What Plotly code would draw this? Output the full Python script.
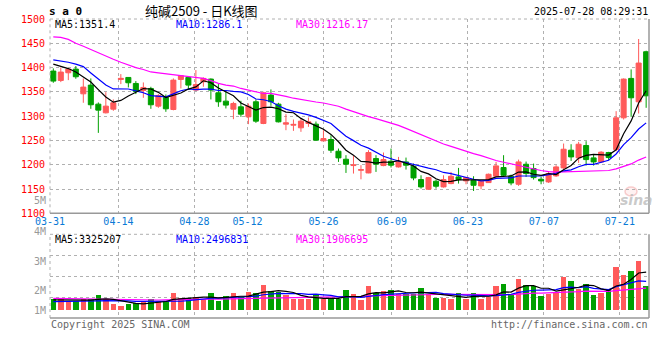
import plotly.graph_objects as go
import pandas as pd

# ---------------- data ----------------
dates = ["03-31",
 "04-01","04-02","04-03","04-07","04-08","04-09","04-10","04-11","04-14","04-15","04-16","04-17","04-18",
 "04-21","04-22","04-23","04-24","04-25","04-28","04-29","04-30",
 "05-06","05-07","05-08","05-09","05-12","05-13","05-14","05-15","05-16","05-19","05-20","05-21","05-22","05-23",
 "05-26","05-27","05-28","05-29","05-30",
 "06-03","06-04","06-05","06-06","06-09","06-10","06-11","06-12","06-13","06-16","06-17","06-18","06-19","06-20",
 "06-23","06-24","06-25","06-26","06-27","06-30",
 "07-01","07-02","07-03","07-04","07-07","07-08","07-09","07-10","07-11","07-14","07-15","07-16","07-17","07-18",
 "07-21","07-22","07-23","07-24","07-25"]

open_ = [1392.8,1373.5,1389.3,1396.9,1346.0,1363.9,1324.7,1306.9,1314.4,1375.6,
         1379.7,1367.3,1352.9,1357.0,1320.6,1338.5,1313.7,1375.6,1379.7,1353.6,
         1370.8,1376.3,1348.1,1330.9,1314.4,1319.2,1298.6,1329.6,1284.9,1343.3,
         1324.7,1283.5,1281.4,1276.0,1284.9,1283.5,1249.1,1251.9,1227.8,1211.3,
         1198.3,1188.6,1183.1,1212.7,1198.3,1207.2,1195.5,1205.8,1196.9,1169.4,
         1149.5,1166.0,1154.3,1161.2,1174.9,1166.7,1168.0,1156.4,1163.2,1176.3,
         1194.2,1176.3,1159.8,1201.0,1192.1,1170.1,1164.6,1177.0,1193.5,1229.9,
         1214.1,1239.5,1214.1,1205.8,1225.1,1231.3,1296.6,1377.7,1329.5,1432.6]
high = [1398.3,1400.3,1397.5,1403.1,1377.7,1377.7,1328.2,1349.5,1334.4,1386.6,
        1380.5,1372.2,1369.4,1360.5,1345.4,1344.7,1377.7,1384.5,1382.5,1394.8,
        1379.7,1377.7,1366.0,1350.2,1329.6,1331.6,1326.1,1334.4,1350.2,1355.0,
        1327.5,1304.1,1293.1,1296.5,1297.2,1289.0,1271.1,1260.8,1233.3,1219.6,
        1219.6,1199.0,1229.9,1219.6,1225.1,1233.3,1216.1,1214.7,1202.4,1178.3,
        1174.9,1169.4,1178.3,1185.2,1193.5,1174.9,1176.3,1168.0,1181.8,1205.8,
        1219.6,1179.7,1210.6,1206.5,1202.4,1174.9,1186.6,1199.0,1243.6,1242.2,
        1247.1,1248.4,1221.0,1227.8,1226.5,1310.3,1377.7,1396.2,1458.8,1434.7]
low = [1368.7,1370.1,1374.2,1377.0,1327.5,1315.1,1265.6,1305.5,1311.0,1366.0,
       1359.1,1345.4,1337.8,1315.1,1317.2,1308.9,1312.0,1357.0,1355.0,1353.0,
       1360.5,1334.4,1319.2,1315.8,1293.8,1298.6,1283.5,1286.2,1283.5,1321.3,
       1287.0,1271.1,1269.7,1267.7,1278.0,1250.0,1248.5,1224.4,1205.8,1183.1,
       1181.8,1170.0,1182.5,1185.2,1196.9,1194.2,1194.2,1190.0,1168.0,1150.8,
       1148.8,1150.8,1152.9,1159.8,1161.2,1159.8,1146.0,1149.5,1162.5,1174.9,
       1177.0,1157.7,1156.4,1174.9,1169.4,1159.8,1162.5,1174.9,1190.0,1207.9,
       1203.8,1198.3,1198.3,1203.8,1209.3,1227.8,1293.1,1298.6,1305.5,1317.2]
close = [1372.2,1390.7,1396.9,1381.1,1359.8,1323.4,1312.4,1320.6,1327.5,1377.7,
         1368.7,1350.9,1359.1,1323.4,1342.6,1315.1,1374.2,1383.2,1363.9,1365.0,
         1377.7,1353.6,1329.6,1322.7,1326.1,1304.1,1320.6,1289.7,1348.1,1329.6,
         1288.3,1286.2,1283.0,1289.7,1288.3,1250.5,1253.9,1229.9,1214.1,1201.0,
         1199.6,1189.9,1225.1,1201.0,1210.6,1199.0,1205.8,1199.0,1172.8,1154.3,
         1173.5,1155.7,1169.4,1176.3,1169.4,1173.5,1157.7,1166.0,1180.4,1197.6,
         1178.3,1162.5,1205.8,1181.8,1173.5,1166.7,1181.8,1195.5,1231.9,1216.1,
         1242.2,1210.6,1205.8,1225.8,1214.8,1296.6,1376.3,1337.8,1409.3,1341.9]
volume = [976000,1005000,775000,775000,1005000,976000,1349000,976000,574000,402000,
          574000,631000,775000,1005000,775000,775000,1521000,1091000,1091000,1148000,
          1005000,1521000,775000,1263000,1521000,1148000,1607000,1521000,2210000,1693000,
          1579000,1349000,1005000,1005000,1005000,1292000,1005000,1005000,1005000,1779000,
          1435000,918000,2124000,1521000,1693000,1779000,1435000,1406000,1406000,1952000,
          1378000,1091000,1091000,1005000,1521000,1005000,1521000,1005000,1177000,2124000,
          2296000,1406000,2727000,2210000,2124000,1205000,1406000,1464000,2899000,2497000,
          1837000,2296000,1292000,1492000,1779000,3760000,3071000,3358000,4276000,2124000]

# moving-average values before enough history is visible
ma5_head = [1407, 1402, 1398, 1391]
ma10_head = [1416, 1414, 1411, 1407, 1402, 1389, 1376, 1364, 1356]
ma30_head = [1463, 1462, 1458, 1450, 1444, 1437, 1430, 1424, 1417, 1411,
             1405, 1400, 1396, 1391, 1389, 1387, 1384.5, 1383, 1381, 1379,
             1377.7, 1373, 1367.4, 1364, 1362, 1357, 1353.6, 1349, 1346.7]
vma5_head = [930000, 920000, 900000, 900000]
vma10_head = [780000, 780000, 790000, 800000, 800000, 820000, 840000, 860000, 870000]
vma30_head = [1060000, 1050000, 1030000, 1010000, 990000, 970000, 950000, 940000, 930000, 920000,
              920000, 920000, 920000, 920000, 920000, 930000, 950000, 960000, 970000, 980000,
              980000, 990000, 1000000, 1010000, 1020000, 1030000, 1040000, 1060000, 1080000]

tick_dates = ["03-31", "04-14", "04-28", "05-12", "05-26", "06-09", "06-23", "07-07", "07-21"]
price_ticks = [1100, 1150, 1200, 1250, 1300, 1350, 1400, 1450, 1500]

title_text = "纯碱2509 - 日K线图"
symbol_text = "s a 0"
stamp_text = "2025-07-28 08:29:31"
ma_price_labels = ["MA5:1351.4", "MA10:1286.1", "MA30:1216.17"]
ma_vol_labels = ["MA5:3325207", "MA10:2496831", "MA30:1906695"]
vol_axis_labels = ["5M", "4M", "3M", "2M", "1M"]

# ---------------- derived series ----------------
def moving(series, n, head):
    s = pd.Series(series, dtype=float).rolling(n).mean().tolist()
    return list(head) + s[len(head):]

ma5 = moving(close, 5, ma5_head)
ma10 = moving(close, 10, ma10_head)
ma30 = moving(close, 30, ma30_head)
vma5 = moving(volume, 5, vma5_head)
vma10 = moving(volume, 10, vma10_head)
vma30 = moving(volume, 30, vma30_head)

# ---------------- styling ----------------
MONO = "DejaVu Sans Mono"
CJK = "Noto Sans CJK SC"
RED = "#ff5a5a"
GREEN = "#00a000"
GRID = "#b0b0b0"
BORDER = "#999999"
BLUE_TXT = "#0a7ad6"
W, H = 660, 360
L, R, T, B = 50, 11, 19, 42
PW, PH = W - L - R, H - T - B

def px(x):
    return (x - L) / PW

def py(y):
    return (H - B - y) / PH

main_bottom = py(213.3)
vol_top = py(234.3)

x = list(range(len(dates)))
XR = [-0.44, 79.38]
# Sina draws its date grid on a slightly wider step than the candles
tick_pos = [dates.index(d) * 1.01239 - 0.435 for d in tick_dates]

# volume axis: zero sits 7.3 px above the panel bottom, 86100 lots per pixel
VPX = 86100
vmin = -7.3 * VPX
vmax = 76.4 * VPX
vdt = (vmax - vmin) / 4

fig = go.Figure()
fig.add_trace(go.Candlestick(
    x=x, open=open_, high=high, low=low, close=close,
    increasing=dict(line=dict(color=RED, width=1), fillcolor=RED),
    decreasing=dict(line=dict(color=GREEN, width=1), fillcolor=GREEN),
    whiskerwidth=0, hoverinfo="skip", xaxis="x", yaxis="y"))
for ser, col in [(ma30, "#ff00ff"), (ma10, "#0000ff"), (ma5, "#000000")]:
    fig.add_trace(go.Scatter(x=x, y=ser, mode="lines", line=dict(color=col, width=1.2),
                             hoverinfo="skip", xaxis="x", yaxis="y"))

bar_colors = [RED if c >= o else GREEN for o, c in zip(open_, close)]
fig.add_trace(go.Bar(x=x, y=volume, marker=dict(color=bar_colors, line=dict(width=0)),
                     width=0.74, hoverinfo="skip", xaxis="x2", yaxis="y2"))
for ser, col in [(vma30, "#ff00ff"), (vma10, "#0000ff"), (vma5, "#000000")]:
    fig.add_trace(go.Scatter(x=x, y=ser, mode="lines", line=dict(color=col, width=1.2),
                             hoverinfo="skip", xaxis="x2", yaxis="y2"))

axis_common = dict(showgrid=True, gridcolor=GRID, griddash="dot", gridwidth=1,
                   zeroline=False, showline=False, ticks="")

fig.update_layout(
    width=W, height=H, margin=dict(l=L, r=R, t=T, b=B, pad=0),
    paper_bgcolor="white", plot_bgcolor="white", showlegend=False,
    boxgap=0.33, boxgroupgap=0, bargap=0,
    xaxis=dict(domain=[0, 1], anchor="y", range=XR, tickmode="array", tickvals=tick_pos,
               ticktext=tick_dates, tickfont=dict(family=MONO, size=10, color=BLUE_TXT),
               ticklabelstandoff=1, rangeslider=dict(visible=False), **axis_common),
    xaxis2=dict(domain=[0, 1], anchor="y2", range=XR, matches="x", tickmode="array",
                tickvals=tick_pos, showticklabels=False, **axis_common),
    yaxis=dict(domain=[main_bottom, 1], anchor="x", range=[1100, 1500], tickmode="array",
               tickvals=price_ticks, tickfont=dict(family=MONO, size=10, color="#ff0000"),
               ticklabelstandoff=4, **axis_common),
    yaxis2=dict(domain=[0, vol_top], anchor="x2", range=[vmin, vmax], tick0=vmin, dtick=vdt,
                showticklabels=False, **axis_common),
)

# panel borders: dotted top/left, solid bottom/right
shapes = []
for ybot, ytop in [(main_bottom, 1), (0, vol_top)]:
    shapes.append(dict(type="line", xref="paper", yref="paper", x0=0, x1=1, y0=ytop, y1=ytop,
                       line=dict(color=GRID, width=1, dash="dot")))
    shapes.append(dict(type="line", xref="paper", yref="paper", x0=0, x1=0, y0=ybot, y1=ytop,
                       line=dict(color=GRID, width=1, dash="dot")))
    shapes.append(dict(type="line", xref="paper", yref="paper", x0=0, x1=1, y0=ybot, y1=ybot,
                       line=dict(color=BORDER, width=1.5)))
    shapes.append(dict(type="line", xref="paper", yref="paper", x0=1, x1=1, y0=ybot, y1=ytop,
                       line=dict(color=BORDER, width=1.5)))
# faint sina logo eye
shapes.append(dict(type="circle", xref="paper", yref="paper", x0=px(625), x1=px(637),
                   y0=py(196), y1=py(187), line=dict(color="rgba(240,150,150,0.45)", width=1.5),
                   fillcolor="rgba(255,200,200,0.25)", layer="below"))
fig.update_layout(shapes=shapes)

def ann(text, xp, yp, xanchor="left", color="#000000", size=10, family=MONO, weight="normal", style="normal"):
    return dict(text=text, x=px(xp), y=py(yp), xref="paper", yref="paper", xanchor=xanchor,
                yanchor="middle", showarrow=False, borderpad=0,
                font=dict(family=family, size=size, color=color, weight=weight, style=style))

anns = [
    ann(symbol_text, 48, 11.5, size=11, weight="bold"),
    ann(title_text, 201, 10, xanchor="center", size=13, family=CJK),
    ann(stamp_text, 649, 11.5, xanchor="right"),
    ann(ma_price_labels[0], 54, 24.5),
    ann(ma_price_labels[1], 175, 24.5, color="#0000ff"),
    ann(ma_price_labels[2], 295, 24.5, color="#ff00ff"),
    ann(ma_vol_labels[0], 54, 239),
    ann(ma_vol_labels[1], 175, 239, color="#0000ff"),
    ann(ma_vol_labels[2], 295, 239, color="#ff00ff"),
    ann("Copyright 2025 SINA.COM", 50, 324.5, color="#666666"),
    ann("http://finance.sina.com.cn", 649, 324.5, xanchor="right", color="#666666"),
    ann("sina", 636, 200, xanchor="center", size=14, family="DejaVu Sans",
        color="rgba(185,185,185,0.75)", weight="bold", style="italic"),
]
for lab, yy in zip(vol_axis_labels, [200.7, 231.5, 261, 290, 310.3]):
    anns.append(ann(lab, 46.5, yy, xanchor="right", color="#999999"))
fig.update_layout(annotations=anns)

# the page is photographed from its top-left corner: drop the body's default margin
fig.write_html("out.html", config={"displayModeBar": False},
               post_script="document.body.style.margin='0';")
